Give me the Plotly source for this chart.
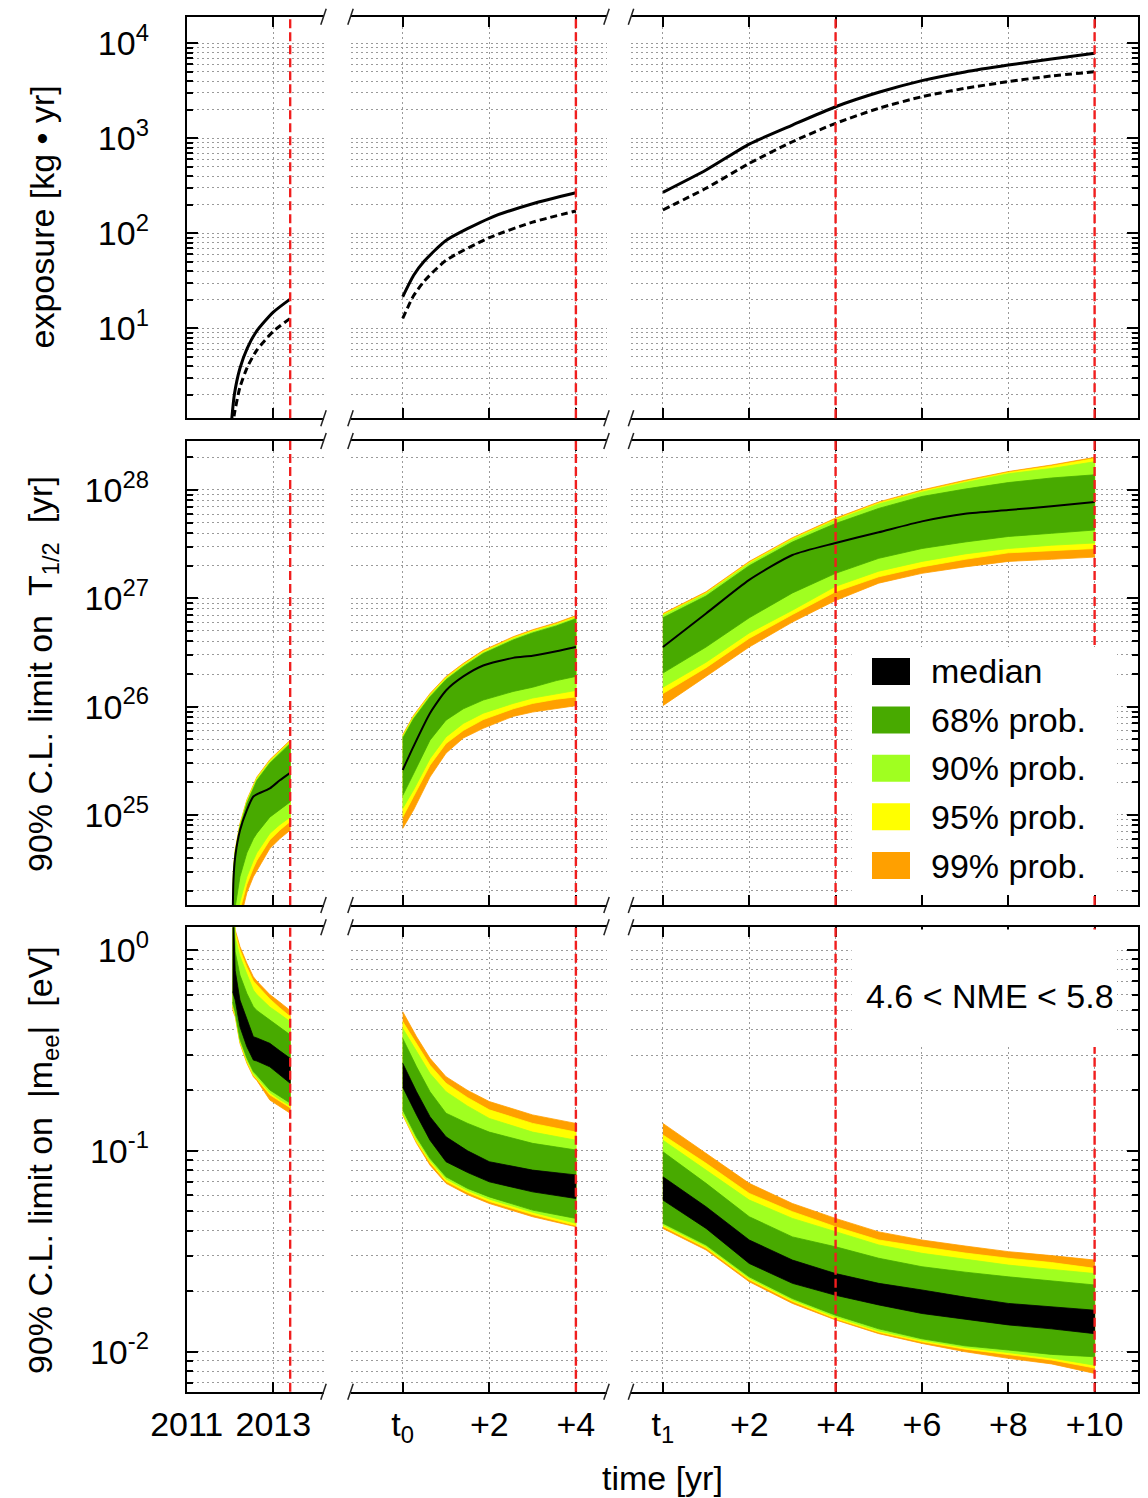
import plotly.graph_objects as go

W, H = 1148, 1498
FONT = "Liberation Sans, Arial, Helvetica, sans-serif"

# ------------------------------------------------------------------ data
# time axes: phase A in calendar years, phase B in years after t0, phase C in years after t1
phase_end_A = [2013.39]
phase_end_B = [4]
phase_end_C = [4, 10]

# exposure [kg yr] : solid and dashed curves
EA_t_solid = [2012.04, 2012.1, 2012.23, 2012.4, 2012.62, 2013.0, 2013.39]
EA_solid = [1.1, 2.0, 3.8, 6.2, 9.4, 14.8, 20.3]
EA_t_dash = [2012.06, 2012.1, 2012.23, 2012.4, 2012.62, 2013.0, 2013.39]
EA_dash = [0.9, 1.25, 2.4, 3.9, 5.9, 9.3, 12.7]

EB_t = [0, 0.25, 0.5, 1, 2, 3, 4]
EB_solid = [21.5, 36, 51, 84, 144, 205, 267]
EB_dash = [12.7, 22, 31.5, 52, 90, 131, 172]

EC_t = [0, 1, 2, 3, 4, 5, 6, 7, 8, 9, 10]
EC_solid = [270, 464, 870, 1380, 2150, 3050, 4050, 5000, 5900, 6850, 7850]
EC_dash = [176, 298, 545, 920, 1438, 2070, 2740, 3360, 3950, 4530, 5010]

# 90% C.L. limit on T1/2 [yr]
TA_t = [2012.06, 2012.08, 2012.12, 2012.23, 2012.39, 2012.54, 2012.62, 2012.92, 2013.15, 2013.39]
TA_med = [1.0e24, 2.5e24, 4.1e24, 7.2e24, 1.11e25, 1.48e25, 1.55e25, 1.76e25, 2.09e25, 2.45e25]
TA_99hi = [1.12e24, 3.16e24, 4.79e24, 8.32e24, 1.38e25, 1.91e25, 2.24e25, 3.24e25, 3.98e25, 4.9e25]
TA_95hi = [1.09e24, 3.1e24, 4.68e24, 8.13e24, 1.35e25, 1.87e25, 2.19e25, 3.17e25, 3.89e25, 4.79e25]
TA_90hi = [1.07e24, 3.0e24, 4.57e24, 7.95e24, 1.32e25, 1.82e25, 2.14e25, 3.09e25, 3.8e25, 4.68e25]
TA_68hi = [1.04e24, 2.9e24, 4.45e24, 7.7e24, 1.28e25, 1.78e25, 2.08e25, 3.0e25, 3.7e25, 4.55e25]
TA_68lo = [5.0e23, 7.9e23, 1.41e24, 2.69e24, 4.47e24, 6.03e24, 6.76e24, 9.55e24, 1.12e25, 1.32e25]
TA_90lo = [3.2e23, 5.0e23, 8.9e23, 1.58e24, 2.69e24, 3.8e24, 4.47e24, 6.76e24, 8.13e24, 9.55e24]
TA_95lo = [2.5e23, 4.0e23, 7.1e23, 1.32e24, 2.29e24, 3.24e24, 3.8e24, 5.89e24, 7.24e24, 8.71e24]
TA_99lo = [2.0e23, 3.2e23, 5.6e23, 1.05e24, 1.91e24, 2.69e24, 3.09e24, 4.9e24, 6.03e24, 7.24e24]

TB_t = [0, 0.25, 0.63, 1.0, 1.4, 1.86, 2.55, 3.0, 3.55, 4.0]
TB_med = [2.6e25, 4.3e25, 8.7e25, 1.41e26, 1.9e26, 2.4e26, 2.82e26, 2.95e26, 3.24e26, 3.55e26]
TB_99hi = [5.5e25, 8.3e25, 1.32e26, 1.9e26, 2.51e26, 3.31e26, 4.42e26, 5.13e26, 5.96e26, 6.92e26]
TB_95hi = [5.37e25, 8.1e25, 1.29e26, 1.86e26, 2.45e26, 3.23e26, 4.32e26, 5.01e26, 5.82e26, 6.76e26]
TB_90hi = [5.25e25, 7.9e25, 1.26e26, 1.81e26, 2.4e26, 3.16e26, 4.22e26, 4.9e26, 5.69e26, 6.61e26]
TB_68hi = [5.1e25, 7.7e25, 1.23e26, 1.77e26, 2.34e26, 3.09e26, 4.12e26, 4.79e26, 5.56e26, 6.46e26]
TB_68lo = [1.51e25, 2.4e25, 4.9e25, 7.5e25, 9.55e25, 1.15e26, 1.38e26, 1.51e26, 1.74e26, 1.9e26]
TB_90lo = [1.15e25, 1.7e25, 3.31e25, 5.25e25, 7.0e25, 8.7e25, 1.07e26, 1.2e26, 1.32e26, 1.41e26]
TB_95lo = [9.55e24, 1.48e25, 2.88e25, 4.57e25, 6.03e25, 7.59e25, 9.55e25, 1.07e26, 1.17e26, 1.23e26]
TB_99lo = [7.5e24, 1.11e25, 2.24e25, 3.72e25, 5.13e25, 6.31e25, 8.13e25, 8.91e25, 9.55e25, 1.02e26]

TC_t = [0, 1, 2, 3, 4, 5, 6, 7, 8, 9, 10]
TC_med = [3.55e26, 7.24e26, 1.48e27, 2.51e27, 3.24e27, 4.07e27, 5.13e27, 6.03e27, 6.53e27, 7.08e27, 7.76e27]
TC_99hi = [7.24e26, 1.15e27, 2.19e27, 3.63e27, 5.5e27, 7.76e27, 1.0e28, 1.23e28, 1.48e28, 1.7e28, 2.0e28]
TC_95hi = [7.08e26, 1.12e27, 2.14e27, 3.55e27, 5.37e27, 7.59e27, 9.77e27, 1.2e28, 1.45e28, 1.66e28, 1.95e28]
TC_90hi = [6.92e26, 1.1e27, 2.09e27, 3.47e27, 5.25e27, 7.41e27, 9.55e27, 1.17e28, 1.41e28, 1.58e28, 1.82e28]
TC_68hi = [6.61e26, 1.05e27, 2.0e27, 3.31e27, 4.9e27, 6.76e27, 8.71e27, 1.02e28, 1.17e28, 1.29e28, 1.38e28]
TC_68lo = [2.04e26, 3.55e26, 6.61e26, 1.12e27, 1.7e27, 2.34e27, 2.88e27, 3.31e27, 3.72e27, 3.98e27, 4.27e27]
TC_90lo = [1.51e26, 2.57e26, 4.79e26, 7.76e26, 1.29e27, 1.78e27, 2.19e27, 2.57e27, 2.88e27, 3.09e27, 3.24e27]
TC_95lo = [1.32e26, 2.29e26, 4.27e26, 7.08e26, 1.15e27, 1.58e27, 1.95e27, 2.29e27, 2.63e27, 2.75e27, 2.88e27]
TC_99lo = [1.02e26, 1.9e26, 3.55e26, 6.03e26, 9.55e26, 1.38e27, 1.7e27, 1.95e27, 2.19e27, 2.29e27, 2.4e27]

# 90% C.L. limit on |m_ee| [eV]  (median is a band: 4.6 < NME < 5.8)
MA_t = [2012.06, 2012.08, 2012.12, 2012.23, 2012.39, 2012.54, 2012.62, 2012.92, 2013.15, 2013.39]
MA_99hi = [2.0, 2.0, 1.26, 1.04, 0.86, 0.736, 0.70, 0.60, 0.55, 0.50]
MA_95hi = [2.0, 2.0, 1.22, 1.0, 0.82, 0.70, 0.67, 0.57, 0.515, 0.466]
MA_90hi = [2.0, 2.0, 1.15, 0.93, 0.76, 0.632, 0.60, 0.52, 0.48, 0.44]
MA_68hi = [2.0, 2.0, 0.98, 0.75, 0.608, 0.522, 0.50, 0.448, 0.41, 0.378]
MA_medhi = [2.0, 1.5, 0.79, 0.564, 0.448, 0.37, 0.365, 0.343, 0.315, 0.289]
MA_medlo = [0.62, 0.60, 0.564, 0.415, 0.33, 0.283, 0.28, 0.262, 0.238, 0.217]
MA_68lo = [0.55, 0.52, 0.49, 0.36, 0.29, 0.248, 0.238, 0.201, 0.186, 0.173]
MA_90lo = [0.54, 0.51, 0.48, 0.352, 0.283, 0.242, 0.232, 0.195, 0.18, 0.168]
MA_95lo = [0.53, 0.50, 0.475, 0.348, 0.278, 0.238, 0.228, 0.19, 0.176, 0.164]
MA_99lo = [0.52, 0.49, 0.466, 0.343, 0.273, 0.234, 0.224, 0.179, 0.166, 0.154]

MB_t = [0, 0.32, 0.63, 1.0, 1.5, 2.0, 3.0, 4.0]
MB_99hi = [0.493, 0.37, 0.289, 0.234, 0.2, 0.176, 0.151, 0.137]
MB_95hi = [0.44, 0.343, 0.267, 0.217, 0.184, 0.16, 0.137, 0.124]
MB_90hi = [0.407, 0.312, 0.243, 0.197, 0.167, 0.145, 0.124, 0.113]
MB_68hi = [0.363, 0.262, 0.197, 0.154, 0.137, 0.124, 0.109, 0.101]
MB_medhi = [0.273, 0.197, 0.148, 0.1175, 0.1, 0.0883, 0.0802, 0.0759]
MB_medlo = [0.208, 0.151, 0.113, 0.0883, 0.078, 0.0701, 0.0625, 0.0579]
MB_68lo = [0.16, 0.117, 0.0918, 0.0743, 0.065, 0.059, 0.0507, 0.0461]
MB_90lo = [0.154, 0.114, 0.0895, 0.0725, 0.0635, 0.0575, 0.0495, 0.0436]
MB_95lo = [0.152, 0.111, 0.0875, 0.0705, 0.062, 0.056, 0.0482, 0.0425]
MB_99lo = [0.151, 0.109, 0.0849, 0.0689, 0.0605, 0.0547, 0.047, 0.0419]

MC_t = [0, 1, 2, 3, 4, 5, 6, 7, 8, 9, 10]
MC_99hi = [0.137, 0.0973, 0.0689, 0.0547, 0.0461, 0.0395, 0.036, 0.0336, 0.0315, 0.0301, 0.0286]
MC_95hi = [0.12, 0.0867, 0.0614, 0.0498, 0.0419, 0.036, 0.0333, 0.031, 0.0292, 0.0278, 0.026]
MC_90hi = [0.113, 0.0802, 0.0569, 0.0461, 0.0395, 0.034, 0.0309, 0.0288, 0.027, 0.0257, 0.0245]
MC_68hi = [0.099, 0.0689, 0.047, 0.0373, 0.0333, 0.0292, 0.0265, 0.0249, 0.0236, 0.0225, 0.0215]
MC_medhi = [0.0743, 0.0527, 0.036, 0.0286, 0.0245, 0.0219, 0.0203, 0.0187, 0.0174, 0.0167, 0.0161]
MC_medlo = [0.0569, 0.0411, 0.0275, 0.0219, 0.0191, 0.0171, 0.0155, 0.0145, 0.0136, 0.013, 0.0123]
MC_68lo = [0.0436, 0.034, 0.0236, 0.0184, 0.0152, 0.013, 0.0116, 0.0107, 0.0102, 0.0097, 0.00944]
MC_90lo = [0.0428, 0.0334, 0.0232, 0.0181, 0.0149, 0.0127, 0.0114, 0.0105, 0.0099, 0.0093, 0.00857]
MC_95lo = [0.042, 0.0328, 0.0228, 0.0178, 0.0146, 0.0125, 0.0112, 0.0103, 0.0097, 0.0091, 0.0083]
MC_99lo = [0.0411, 0.0321, 0.0223, 0.0174, 0.0144, 0.0123, 0.011, 0.01, 0.00927, 0.0087, 0.0078]

# tick labels
x_tickvals = [[2011, 2013], [0, 2, 4], [0, 2, 4, 6, 8, 10]]
x_ticktext = [["2011", "2013"], ["t<sub>0</sub>", "+2", "+4"],
              ["t<sub>1</sub>", "+2", "+4", "+6", "+8", "+10"]]
y_decades = [[1, 2, 3, 4], [25, 26, 27, 28], [-2, -1, 0]]

legend_labels = ["median", "68% prob.", "90% prob.", "95% prob.", "99% prob."]

# ------------------------------------------------------------------ style / layout
C99, C95, C90, C68, CMED = "#FFA000", "#FFFF00", "#A0FF20", "#48AA00", "#000000"
RED = "#F01E1E"
GRID = "#9a9a9a"
GDASH = "2px,3px"

col_px = [(186.7, 323.5), (350.5, 606.5), (631.0, 1138.0)]
row_px = [(16.7, 418.3), (441.0, 905.0), (927.3, 1391.7)]
x_ranges = [[2011.0, 2014.16], [-1.206, 4.707], [-0.739, 11.005]]
y_ranges = [[0.053, 4.28], [24.169, 28.452], [-2.199, 0.113]]


def PX(x):
    return x / W


def PY(y):
    return 1 - y / H


def ax_ids(r, c):
    i = r * 3 + c + 1
    s = "" if i == 1 else str(i)
    return i, "x" + s, "y" + s


fig = go.Figure()
layout = dict(width=W, height=H, margin=dict(l=0, r=0, t=0, b=0, pad=0, autoexpand=False),
              paper_bgcolor="white", plot_bgcolor="white", showlegend=False,
              font=dict(family=FONT, size=34, color="black"))

for r in range(3):
    lo_dec, hi_dec = y_decades[r][0], y_decades[r][-1]
    minor_vals = [m * 10.0 ** k for k in range(lo_dec - 1, hi_dec + 1) for m in range(2, 10)]
    for c in range(3):
        i, xs, ys = ax_ids(r, c)
        xname = "xaxis" + xs[1:]
        yname = "yaxis" + ys[1:]
        layout[xname] = dict(
            domain=[PX(col_px[c][0]), PX(col_px[c][1])], range=x_ranges[c], anchor=ys,
            automargin=False,
            showline=True, mirror="ticks", linecolor="black", linewidth=2,
            ticks="inside", ticklen=10, tickwidth=2, tickcolor="black",
            tickmode="array", tickvals=x_tickvals[c], ticktext=x_ticktext[c],
            showticklabels=(r == 2), ticklabelstandoff=1,
            showgrid=True, gridcolor=GRID, griddash=GDASH, gridwidth=1, zeroline=False)
        yax = dict(
            domain=[PY(row_px[r][1]), PY(row_px[r][0])], type="log", range=y_ranges[r],
            anchor=xs, side="right" if c == 2 else "left", automargin=False,
            showline=(c != 1), mirror=False, linecolor="black", linewidth=2,
            ticks="inside" if c != 1 else "", ticklen=11, tickwidth=2, tickcolor="black",
            tickmode="array", tickvals=[10.0 ** k for k in y_decades[r]],
            ticktext=["10<sup>%d</sup>" % k for k in y_decades[r]],
            showticklabels=(c == 0), ticklabelstandoff=29,
            showgrid=True, gridcolor=GRID, griddash=GDASH, gridwidth=1, zeroline=False,
            minor=dict(tickmode="array", tickvals=minor_vals,
                       ticks="inside" if c != 1 else "", ticklen=6, tickwidth=1.5,
                       tickcolor="black", showgrid=True, gridcolor=GRID,
                       griddash=GDASH, gridwidth=1))
        layout[yname] = yax


def band(r, c, t, lo, hi, color):
    _, xs, ys = ax_ids(r, c)
    fig.add_trace(go.Scatter(
        x=list(t) + list(t)[::-1], y=list(hi) + list(lo)[::-1],
        mode="lines", fill="toself", fillcolor=color,
        line=dict(width=0.8, color=color), xaxis=xs, yaxis=ys, hoverinfo="skip"))


def line(r, c, t, y, width=3, dash=None):
    _, xs, ys = ax_ids(r, c)
    fig.add_trace(go.Scatter(x=t, y=y, mode="lines", xaxis=xs, yaxis=ys,
                             line=dict(color="black", width=width, dash=dash, shape="spline",
                                       smoothing=0.6),
                             hoverinfo="skip"))


# exposure row
line(0, 0, EA_t_solid, EA_solid)
line(0, 0, EA_t_dash, EA_dash, dash="7px,4px")
line(0, 1, EB_t, EB_solid)
line(0, 1, EB_t, EB_dash, dash="7px,4px")
line(0, 2, EC_t, EC_solid)
line(0, 2, EC_t, EC_dash, dash="7px,4px")

# T1/2 row
for c, (t, med, h99, h95, h90, h68, l68, l90, l95, l99) in enumerate([
        (TA_t, TA_med, TA_99hi, TA_95hi, TA_90hi, TA_68hi, TA_68lo, TA_90lo, TA_95lo, TA_99lo),
        (TB_t, TB_med, TB_99hi, TB_95hi, TB_90hi, TB_68hi, TB_68lo, TB_90lo, TB_95lo, TB_99lo),
        (TC_t, TC_med, TC_99hi, TC_95hi, TC_90hi, TC_68hi, TC_68lo, TC_90lo, TC_95lo, TC_99lo)]):
    band(1, c, t, l99, h99, C99)
    band(1, c, t, l95, h95, C95)
    band(1, c, t, l90, h90, C90)
    band(1, c, t, l68, h68, C68)
    line(1, c, t, med, width=2)

# m_ee row
for c, (t, h99, h95, h90, h68, mh, ml, l68, l90, l95, l99) in enumerate([
        (MA_t, MA_99hi, MA_95hi, MA_90hi, MA_68hi, MA_medhi, MA_medlo, MA_68lo, MA_90lo, MA_95lo, MA_99lo),
        (MB_t, MB_99hi, MB_95hi, MB_90hi, MB_68hi, MB_medhi, MB_medlo, MB_68lo, MB_90lo, MB_95lo, MB_99lo),
        (MC_t, MC_99hi, MC_95hi, MC_90hi, MC_68hi, MC_medhi, MC_medlo, MC_68lo, MC_90lo, MC_95lo, MC_99lo)]):
    band(2, c, t, l99, h99, C99)
    band(2, c, t, l95, h95, C95)
    band(2, c, t, l90, h90, C90)
    band(2, c, t, l68, h68, C68)
    band(2, c, t, ml, mh, CMED)

shapes = []
# red dashed phase markers
for c, ends in enumerate([phase_end_A, phase_end_B, phase_end_C]):
    for r in range(3):
        _, xs, ys = ax_ids(r, c)
        for xv in ends:
            shapes.append(dict(type="line", xref=xs, yref=ys + " domain", x0=xv, x1=xv,
                               y0=0, y1=1, line=dict(color=RED, width=2.4, dash="9px,4px"),
                               layer="above"))

# white boxes behind legend and NME label
shapes.append(dict(type="rect", xref="paper", yref="paper", x0=PX(851.7), x1=PX(1117),
                   y0=PY(895), y1=PY(647), fillcolor="white", line=dict(width=0), layer="above"))
shapes.append(dict(type="rect", xref="paper", yref="paper", x0=PX(851.7), x1=PX(1117),
                   y0=PY(1047), y1=PY(929.5), fillcolor="white", line=dict(width=0), layer="above"))

# legend swatches
sw_y = [671.5, 720.0, 768.3, 816.7, 865.5]
for yc, col in zip(sw_y, [CMED, C68, C90, C95, C99]):
    shapes.append(dict(type="rect", xref="paper", yref="paper", x0=PX(872), x1=PX(910),
                       y0=PY(yc + 13.5), y1=PY(yc - 13.5), fillcolor=col,
                       line=dict(width=0), layer="above"))

# axis break marks
for r in range(3):
    for yb in row_px[r]:
        for xb in [col_px[0][1], col_px[1][0], col_px[1][1], col_px[2][0]]:
            shapes.append(dict(type="line", xref="paper", yref="paper",
                               x0=PX(xb - 2.7), x1=PX(xb + 2.7), y0=PY(yb + 8), y1=PY(yb - 8),
                               line=dict(color="#222222", width=1.5), layer="above"))

annotations = []
for yc, txt in zip(sw_y, legend_labels):
    annotations.append(dict(xref="paper", yref="paper", x=PX(929), y=PY(yc), text=txt,
                            showarrow=False, xanchor="left", yanchor="middle",
                            font=dict(size=34)))
annotations.append(dict(xref="paper", yref="paper", x=PX(989.7), y=PY(995.5),
                        text="4.6 &lt; NME &lt; 5.8", showarrow=False,
                        xanchor="center", yanchor="middle", font=dict(size=34)))
NB = "\u00a0"
titles = [("exposure [kg \u2022 yr]", 217.5),
          ("90% C.L. limit on" + NB * 2 + "T<sub>1/2</sub>" + NB * 2 + "[yr]", 674),
          ("90% C.L. limit on" + NB * 2 + "|m<sub>ee</sub>|" + NB * 2 + "[eV]", 1160)]
for txt, yc in titles:
    annotations.append(dict(xref="paper", yref="paper", x=PX(42), y=PY(yc), text=txt,
                            textangle=-90, showarrow=False, xanchor="center",
                            yanchor="middle", font=dict(size=34)))
annotations.append(dict(xref="paper", yref="paper", x=PX(662), y=PY(1478), text="time [yr]",
                        showarrow=False, xanchor="center", yanchor="middle",
                        font=dict(size=34)))

layout["shapes"] = shapes
layout["annotations"] = annotations
fig.update_layout(**layout)
fig.write_html("out.html")
